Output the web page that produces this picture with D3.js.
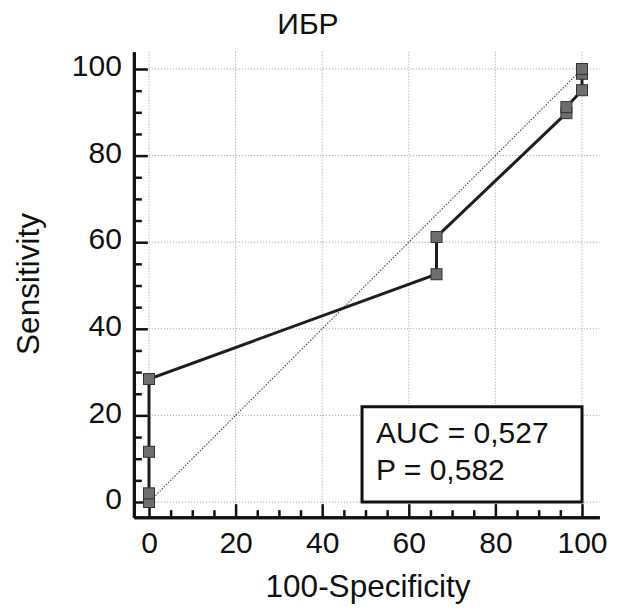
<!DOCTYPE html>
<html>
<head>
<meta charset="utf-8">
<script src="https://cdn.jsdelivr.net/npm/d3@7"></script>
<style>
  body { margin: 0; background: #fff; }
  text { font-family: Arial, "Liberation Sans", sans-serif; fill: #111; }
</style>
</head>
<body>
<div id="chart"></div>
<script>
// ROC points (100-Specificity, Sensitivity)
const fpr = [0, 0, 0, 0, 66.4, 66.4, 96.4, 96.4, 100, 100, 100];
const tpr = [0, 2, 11.6, 28.4, 52.6, 61.2, 89.8, 91.2, 95.1, 98.9, 100];
const majorTicks = [0, 20, 40, 60, 80, 100];
const minorTicks = d3.range(0, 101, 5).filter(d => d % 20 !== 0);
const title = "ИБР";
const xLabel = "100-Specificity";
const yLabel = "Sensitivity";
const statLines = ["AUC = 0,527", "P = 0,582"];
const statBox = {x0: 49.2, x1: 100, y0: 0, y1: 22};

const W = 618, H = 610;
const lo = -3.5, hi = 104;

const x = d3.scaleLinear().domain([0, 100]).range([149, 582]);
const y = d3.scaleLinear().domain([0, 100]).range([502, 69]);

// same mapping, but stretched so the axis line runs past 0 and 100
const xAxisScale = d3.scaleLinear().domain([lo, hi]).range([x(lo), x(hi)]);
const yAxisScale = d3.scaleLinear().domain([lo, hi]).range([y(lo), y(hi)]);

const svg = d3.select("#chart").append("svg")
    .attr("width", W)
    .attr("height", H);

// dotted grid
svg.append("g").selectAll("line")
    .data(majorTicks)
    .enter().append("line")
    .attr("x1", d => x(d)).attr("x2", d => x(d))
    .attr("y1", y(hi)).attr("y2", y(lo))
    .attr("stroke", "#9a9a9a").attr("stroke-width", 1)
    .attr("stroke-dasharray", "1,2");
svg.append("g").selectAll("line")
    .data(majorTicks)
    .enter().append("line")
    .attr("y1", d => y(d)).attr("y2", d => y(d))
    .attr("x1", x(lo)).attr("x2", x(hi))
    .attr("stroke", "#9a9a9a").attr("stroke-width", 1)
    .attr("stroke-dasharray", "1,2");

// diagonal reference
svg.append("line")
    .attr("x1", x(0)).attr("y1", y(0))
    .attr("x2", x(100)).attr("y2", y(100))
    .attr("stroke", "#555").attr("stroke-width", 1.2)
    .attr("stroke-dasharray", "1.5,1.5");

// stats box
svg.append("rect")
    .attr("x", x(statBox.x0)).attr("y", y(statBox.y1))
    .attr("width", x(statBox.x1) - x(statBox.x0))
    .attr("height", y(statBox.y0) - y(statBox.y1))
    .attr("fill", "#fff").attr("stroke", "#111").attr("stroke-width", 3);
svg.selectAll(".stat")
    .data(statLines)
    .enter().append("text")
    .attr("class", "stat")
    .attr("x", x(statBox.x0) + 14)
    .attr("y", (d, i) => y(statBox.y1) + 36 + i * 37)
    .attr("font-size", 30)
    .text(d => d);

// axes
const xMajor = svg.append("g")
    .attr("transform", `translate(0,${y(lo)})`)
    .call(d3.axisBottom(xAxisScale).tickValues(majorTicks)
        .tickSizeInner(-13).tickSizeOuter(0).tickPadding(15));
const xMinor = svg.append("g")
    .attr("transform", `translate(0,${y(lo)})`)
    .call(d3.axisBottom(xAxisScale).tickValues(minorTicks)
        .tickSizeInner(-7).tickSizeOuter(0).tickFormat(""));
const yMajor = svg.append("g")
    .attr("transform", `translate(${x(lo)},0)`)
    .call(d3.axisLeft(yAxisScale).tickValues(majorTicks)
        .tickSizeInner(-14).tickSizeOuter(0).tickPadding(12));
const yMinor = svg.append("g")
    .attr("transform", `translate(${x(lo)},0)`)
    .call(d3.axisLeft(yAxisScale).tickValues(minorTicks)
        .tickSizeInner(-8).tickSizeOuter(0).tickFormat(""));

[xMajor, xMinor, yMajor, yMinor].forEach(g => {
    g.select(".domain").attr("stroke", "#111").attr("stroke-width", 3);
    g.selectAll(".tick line").attr("stroke", "#111").attr("stroke-width", 2.5);
    g.selectAll(".tick text")
        .attr("font-size", 30)
        .attr("font-family", "Arial, 'Liberation Sans', sans-serif")
        .attr("fill", "#111");
});
yMajor.selectAll(".tick text").attr("dy", "0.22em");

// ROC curve
const pts = fpr.map((d, i) => [d, tpr[i]]);
svg.append("path")
    .datum(pts)
    .attr("d", d3.line().x(d => x(d[0])).y(d => y(d[1])))
    .attr("fill", "none")
    .attr("stroke", "#1e1e1e")
    .attr("stroke-width", 3);

svg.append("g").selectAll("rect")
    .data(pts)
    .enter().append("rect")
    .attr("x", d => x(d[0]) - 5.5)
    .attr("y", d => y(d[1]) - 5.5)
    .attr("width", 11).attr("height", 11)
    .attr("fill", "#6e6e6e")
    .attr("stroke", "#333").attr("stroke-width", 1);

// titles
svg.append("text")
    .attr("x", 308).attr("y", 34)
    .attr("text-anchor", "middle")
    .attr("font-size", 30)
    .text(title);
svg.append("text")
    .attr("x", 368).attr("y", 597)
    .attr("text-anchor", "middle")
    .attr("font-size", 31.5)
    .text(xLabel);
svg.append("text")
    .attr("transform", "translate(39,284) rotate(-90)")
    .attr("text-anchor", "middle")
    .attr("font-size", 31.5)
    .text(yLabel);
</script>
</body>
</html>
